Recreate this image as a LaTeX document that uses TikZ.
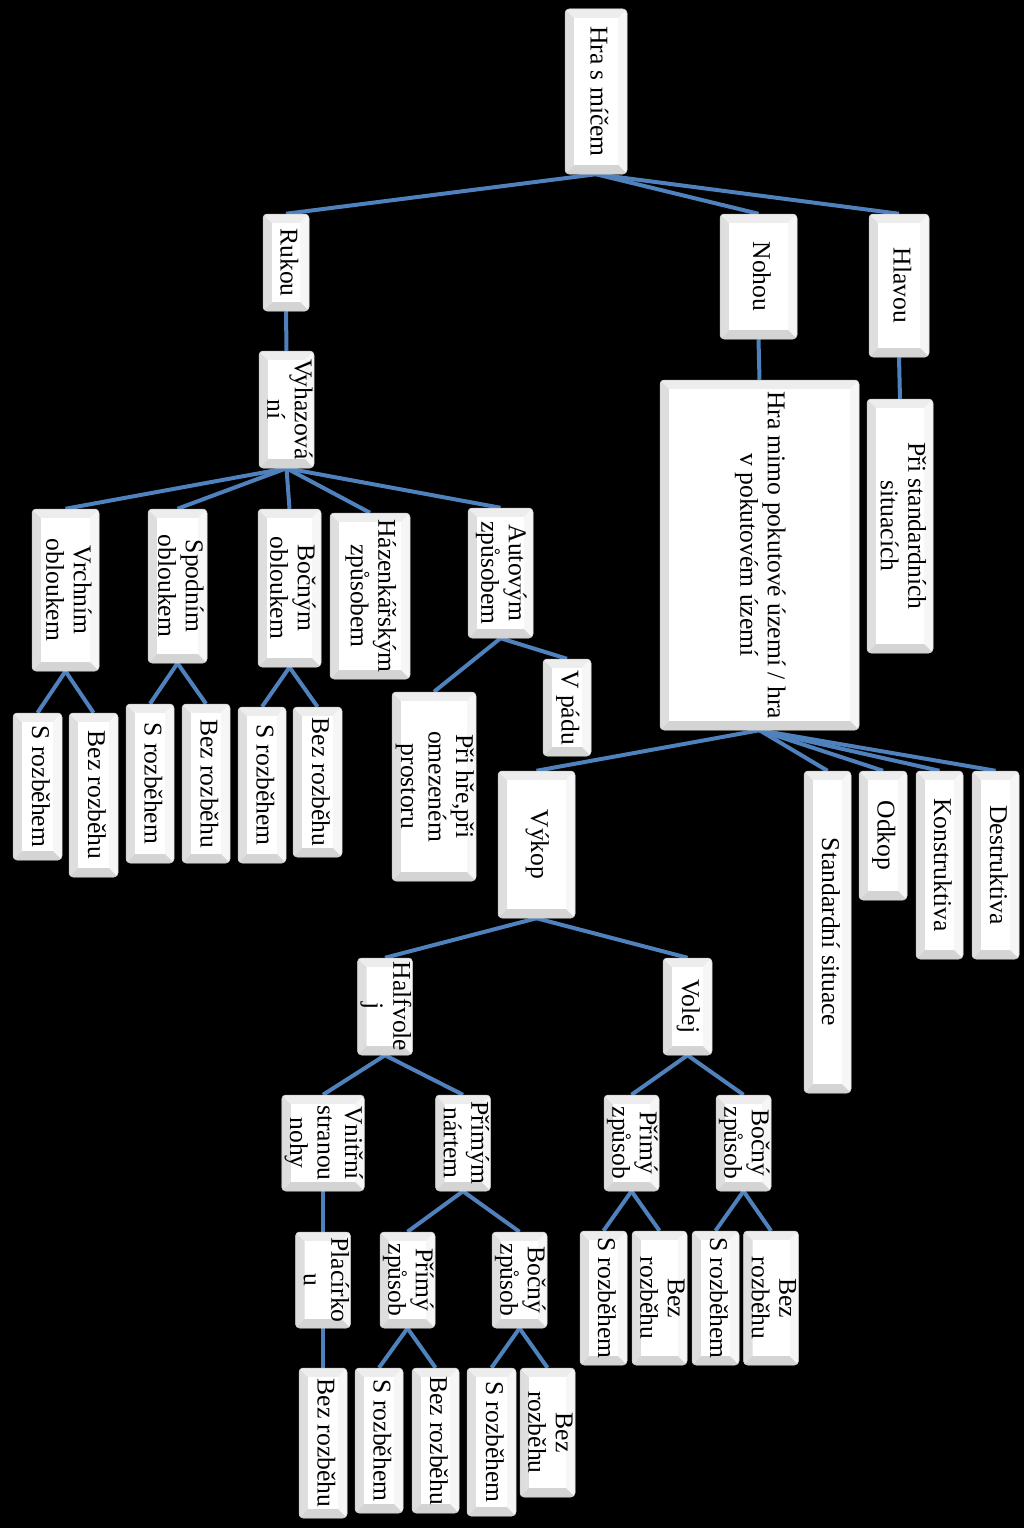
\documentclass[tikz,border=0pt]{standalone}
\usepackage{fontspec}
\setmainfont{Liberation Serif}
\usetikzlibrary{backgrounds}
\definecolor{connblue}{RGB}{79,129,189}
\tikzset{
  bx/.style={draw=gray!45, line width=0.5pt, rounded corners=4pt, fill=white,
    inner sep=0pt, font=\fontsize{25.6}{27.5}\selectfont,
    path picture={
      \path (path picture bounding box.south west) coordinate (sw)
            (path picture bounding box.north east) coordinate (ne)
            (path picture bounding box.south east) coordinate (se)
            (path picture bounding box.north west) coordinate (nw);
      \fill[sharp corners, gray!26] (sw) -- (nw) -- ([shift={(9pt,-9pt)}]nw) -- ([shift={(9pt,9pt)}]sw) -- cycle;
      \fill[sharp corners, gray!14] (nw) -- (ne) -- ([shift={(-9pt,-9pt)}]ne) -- ([shift={(9pt,-9pt)}]nw) -- cycle;
      \fill[sharp corners, gray!7] (ne) -- (se) -- ([shift={(-9pt,9pt)}]se) -- ([shift={(-9pt,-9pt)}]ne) -- cycle;
      \fill[sharp corners, gray!34] (se) -- (sw) -- ([shift={(9pt,9pt)}]sw) -- ([shift={(-9pt,9pt)}]se) -- cycle;
      \fill[sharp corners, white] ([shift={(9pt,9pt)}]sw) rectangle ([shift={(-9pt,-9pt)}]ne);
    }},
  conn/.style={draw=connblue, line width=4pt}
}
\newcommand\mybox[6]{\node[bx, minimum width={(#4-#2)*1pt}, minimum height={(#5-#3)*1pt}] (#1) at ({(#2+#4)/2},{-(#3+#5)/2}) {\rotatebox{-90}{\begin{tabular}{@{}c@{}}#6\end{tabular}}};}
\begin{document}
\begin{tikzpicture}[x=1pt,y=1pt]
\useasboundingbox (0,0) rectangle (1024,-1528);
\mybox{root}{565}{9}{627}{174}{Hra s míčem}
\mybox{rukou}{263}{214}{309}{311}{Rukou}
\mybox{nohou}{720}{214}{797}{339}{Nohou}
\mybox{hlavou}{869}{214}{929}{357}{Hlavou}
\mybox{vyh}{263}{351}{310}{468}{Vyhazová\\ní}
\mybox{mimo}{660}{380}{859}{730}{Hra mimo pokutové území / hra\\v pokutovém území}
\mybox{stdsit}{867}{399}{933}{653}{Při standardních\\situacích}
\mybox{vrch}{32}{509}{99}{671}{Vrchním\\obloukem}
\mybox{spod}{148}{509}{207}{663}{Spodním\\obloukem}
\mybox{bocn}{258}{509}{321}{667}{Bočným\\obloukem}
\mybox{haz}{330}{513}{410}{679}{Házenkářským\\způsobem}
\mybox{auto}{468}{508}{533}{638}{Autovým\\způsobem}
\mybox{vpadu}{543}{659}{591}{756}{V pádu}
\mybox{prihre}{392}{692}{476}{881}{Při hře,při\\omezeném\\prostoru}
\mybox{sa}{13}{713}{62}{860}{S rozběhem}
\mybox{ba}{69}{713}{118}{877}{Bez rozběhu}
\mybox{sb}{126}{704}{174}{863}{S rozběhem}
\mybox{bb}{182}{704}{230}{863}{Bez rozběhu}
\mybox{sc}{238}{707}{286}{863}{S rozběhem}
\mybox{bc}{293}{707}{342}{857}{Bez rozběhu}
\mybox{vykop}{498}{771}{575}{918}{Výkop}
\mybox{stand}{804}{771}{851}{1093}{Standardní situace}
\mybox{odkop}{859}{771}{907}{900}{Odkop}
\mybox{konst}{916}{771}{963}{959}{Konstruktiva}
\mybox{destr}{972}{771}{1019}{959}{Destruktiva}
\mybox{half}{362}{958}{408}{1055}{Halfvole\\j}
\mybox{volej}{663}{958}{712}{1055}{Volej}
\mybox{vnitr}{283}{1095}{363}{1191}{Vnitřní\\stranou\\nohy}
\mybox{primnart}{439}{1095}{487}{1191}{Přímým\\nártem}
\mybox{vprimy}{607}{1095}{656}{1191}{Přímý\\způsob}
\mybox{vbocny}{719}{1095}{768}{1191}{Bočný\\způsob}
\mybox{plac}{299}{1232}{347}{1328}{Placírko\\u}
\mybox{nprimy}{383}{1232}{432}{1328}{Přímý\\způsob}
\mybox{nbocny}{496}{1232}{543}{1328}{Bočný\\způsob}
\mybox{pb}{299}{1368}{347}{1518}{Bez rozběhu}
\mybox{nsa}{355}{1368}{403}{1513}{S rozběhem}
\mybox{nba}{412}{1368}{459}{1513}{Bez rozběhu}
\mybox{nsb}{467}{1368}{516}{1516}{S rozběhem}
\mybox{nbb}{523}{1368}{572}{1497}{Bez\\rozběhu}
\mybox{vsa}{580}{1231}{627}{1365}{S rozběhem}
\mybox{vba}{636}{1231}{683}{1365}{Bez\\rozběhu}
\mybox{vsb}{692}{1231}{739}{1365}{S rozběhem}
\mybox{vbb}{747}{1231}{795}{1365}{Bez\\rozběhu}
\begin{scope}[on background layer]
\fill[black] (0,0) rectangle (1024,-1528);
\foreach \p/\c in {root/rukou, root/nohou, root/hlavou, rukou/vyh, nohou/mimo, hlavou/stdsit,
  vyh/vrch, vyh/spod, vyh/bocn, vyh/haz, vyh/auto,
  vrch/sa, vrch/ba, spod/sb, spod/bb, bocn/sc, bocn/bc,
  auto/prihre, auto/vpadu,
  mimo/vykop, mimo/stand, mimo/odkop, mimo/konst, mimo/destr,
  vykop/half, vykop/volej, half/vnitr, half/primnart, volej/vprimy, volej/vbocny,
  vnitr/plac, primnart/nprimy, primnart/nbocny,
  vprimy/vsa, vprimy/vba, vbocny/vsb, vbocny/vbb,
  plac/pb, nprimy/nsa, nprimy/nba, nbocny/nsb, nbocny/nbb}
  \draw[conn] (\p.south) -- (\c.north);
\end{scope}
\end{tikzpicture}
\end{document}
